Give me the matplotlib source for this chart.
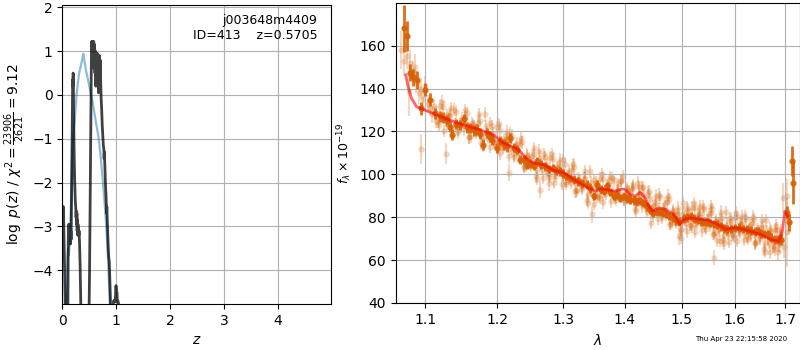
import matplotlib
matplotlib.use('Agg')
import matplotlib.pyplot as plt
from matplotlib.ticker import FixedLocator, FixedFormatter, NullLocator

# log p(z) curve (dark) and prior-like curve (blue)
pz_z = [0.000, 0.005, 0.010, 0.015, 0.020, 0.030, 0.040, 0.050, 0.060, 0.070,
        0.080, 0.090, 0.100, 0.108, 0.112, 0.117, 0.122, 0.127, 0.132, 0.137,
        0.142, 0.147, 0.152, 0.157, 0.162, 0.167, 0.175, 0.182, 0.188, 0.192,
        0.196, 0.200, 0.204, 0.210, 0.220, 0.230, 0.240, 0.250, 0.255, 0.260,
        0.265, 0.270, 0.275, 0.280, 0.285, 0.290, 0.295, 0.300, 0.305, 0.310,
        0.315, 0.320, 0.330, 0.340, 0.350, 0.360, 0.400, 0.450, 0.480, 0.495,
        0.505, 0.515, 0.525, 0.535, 0.540, 0.545, 0.552, 0.560, 0.568, 0.575,
        0.582, 0.590, 0.598, 0.606, 0.614, 0.622, 0.630, 0.638, 0.646, 0.654,
        0.662, 0.670, 0.678, 0.686, 0.694, 0.700, 0.710, 0.720, 0.730,
        0.740, 0.750, 0.760, 0.770, 0.775, 0.780, 0.785, 0.790, 0.800, 0.810,
        0.815, 0.820, 0.825, 0.830, 0.840, 0.850, 0.860, 0.870, 0.880, 0.890,
        0.900, 0.910, 0.920, 0.940, 0.950, 0.960, 0.970, 0.980, 0.990, 0.995,
        1.000, 1.005, 1.010, 1.020, 1.030, 1.040, 1.050, 1.070, 1.200, 2.000,
        5.000]
pz_lp = [-2.7, -2.55, -2.8, -2.6, -2.55, -3.2, -3.9, -4.5, -5.2, -5.8,
         -6.3, -6.0, -5.4, -4.0, -3.0, -3.3, -2.95, -3.35, -3.1, -3.3,
         -2.95, -3.2, -3.4, -3.1, -3.3, -2.9, -1.8, -0.7, 0.1, 0.35,
         0.2, 0.5, 0.45, -0.5, -1.4, -2.0, -2.4, -2.6, -2.8, -2.65,
         -2.95, -2.7, -3.1, -2.85, -3.2, -2.95, -3.15, -3.05, -3.2, -3.1,
         -3.25, -3.4, -3.9, -4.6, -5.3, -6.0, -7.0, -6.8, -6.0, -5.0,
         -4.0, -2.5, -1.0, 0.4, 1.0, 1.22, 0.95, 1.22, 1.22, 0.9,
         1.22, 0.6, 1.15, 0.5, 1.0, 0.2, 0.7, 0.3, 0.95, 0.4,
         0.75, 0.05, 0.6, 0.9, 0.45, 0.8, 0.3, -0.1, -0.35,
         -0.7, -0.95, -1.15, -1.25, -1.45, -1.3, -1.5, -1.75, -2.05, -2.3,
         -2.55, -2.7, -2.55, -2.75, -3.1, -3.45, -3.7, -3.8, -4.2, -4.6,
         -5.2, -5.8, -5.5, -4.9, -4.7, -4.72, -4.68, -4.72, -4.5, -4.35,
         -4.45, -4.7, -4.5, -4.72, -4.7, -4.74, -5.2, -6.0, -7.0, -8.0,
         -9.0]

blue_z = [0.060, 0.070, 0.080, 0.090, 0.100, 0.110, 0.120, 0.130, 0.140, 0.150,
          0.160, 0.170, 0.190, 0.210, 0.235, 0.260, 0.290, 0.320, 0.350, 0.375,
          0.390, 0.410, 0.440, 0.470, 0.500, 0.540, 0.580, 0.620, 0.670, 0.710,
          0.750, 0.790, 0.820, 0.850, 0.880, 0.900]
blue_lp = [-6.0, -5.0, -4.3, -3.9, -3.6, -3.5, -3.65, -3.5, -3.35, -2.95,
           -2.45, -1.95, -1.2, -0.85, -0.5, -0.05, 0.3, 0.55, 0.7, 0.85,
           0.94, 0.78, 0.55, 0.38, 0.2, -0.04, -0.3, -0.6, -0.95, -1.4,
           -1.95, -2.55, -3.1, -3.84, -4.8, -5.5]

# spectrum: individual pixels (light), binned (dark), model (red)
light_wave = [1.068, 1.072, 1.075, 1.078, 1.080, 1.083, 1.086, 1.088, 1.091, 1.094,
              1.094, 1.097, 1.100, 1.103, 1.106, 1.109,
              1.112, 1.117, 1.122, 1.127, 1.128, 1.132, 1.137, 1.142, 1.147, 1.152,
              1.157, 1.162, 1.167, 1.172, 1.177, 1.182, 1.187, 1.192, 1.197, 1.202,
              1.207, 1.212, 1.217, 1.2175, 1.222, 1.227, 1.232, 1.237, 1.242, 1.247,
              1.252, 1.257, 1.262, 1.263, 1.267, 1.272, 1.277, 1.278, 1.282, 1.287,
              1.292, 1.297, 1.302, 1.307, 1.312, 1.317, 1.322, 1.327, 1.332, 1.337,
              1.342, 1.345, 1.347, 1.352, 1.357, 1.362, 1.367, 1.372, 1.377, 1.382,
              1.387, 1.392, 1.397, 1.402, 1.407, 1.412, 1.417, 1.422, 1.427, 1.432,
              1.437, 1.442, 1.447, 1.452, 1.457, 1.462, 1.467, 1.472, 1.477, 1.482,
              1.487, 1.492, 1.496, 1.498, 1.502, 1.507, 1.512, 1.517, 1.522, 1.527,
              1.532, 1.537, 1.542, 1.547, 1.552, 1.557, 1.560, 1.562, 1.566, 1.567,
              1.571, 1.572, 1.577, 1.582, 1.587, 1.592, 1.597, 1.602, 1.607, 1.612,
              1.617, 1.622, 1.627, 1.632, 1.637, 1.642, 1.647, 1.652, 1.657, 1.662,
              1.667, 1.672, 1.677, 1.682, 1.687, 1.692, 1.695, 1.697, 1.7045, 1.705,
              1.708,
              1.1145, 1.1195, 1.1245, 1.1295, 1.1345, 1.1395, 1.1445, 1.1495, 1.1545, 1.1595,
              1.1645, 1.1695, 1.1745, 1.1795, 1.1845, 1.1895, 1.1945, 1.1995, 1.2045, 1.2095,
              1.2145, 1.2195, 1.2245, 1.2295, 1.2345, 1.2395, 1.2445, 1.2495, 1.2545, 1.2595,
              1.2645, 1.2695, 1.2745, 1.2795, 1.2845, 1.2895, 1.2945, 1.2995, 1.3045, 1.3095,
              1.3145, 1.3195, 1.3245, 1.3295, 1.3345, 1.3395, 1.3445, 1.3495, 1.3545, 1.3595,
              1.3645, 1.3695, 1.3745, 1.3795, 1.3845, 1.3895, 1.3945, 1.3995, 1.4045, 1.4095,
              1.4145, 1.4195, 1.4245, 1.4295, 1.4345, 1.4395, 1.4445, 1.4495, 1.4545, 1.4595,
              1.4645, 1.4695, 1.4745, 1.4795, 1.4845, 1.4895, 1.4945, 1.4995, 1.5045, 1.5095,
              1.5145, 1.5195, 1.5245, 1.5295, 1.5345, 1.5395, 1.5445, 1.5495, 1.5545, 1.5595,
              1.5645, 1.5695, 1.5745, 1.5795, 1.5845, 1.5895, 1.5945, 1.5995, 1.6045, 1.6095,
              1.6145, 1.6195, 1.6245, 1.6295, 1.6345, 1.6395, 1.6445, 1.6495, 1.6545, 1.6595,
              1.6645, 1.6695, 1.6745, 1.6795, 1.6845, 1.6895]
light_flux = [158, 153, 155, 139, 152, 148, 150, 143, 138, 140,
              112, 135, 141, 133, 131, 128,
              132, 124.5, 133.5, 125, 109.6, 127, 119.5, 129, 123.5, 121,
              128.5, 118, 122.5, 124, 114.5, 128, 117, 122.5, 114.5, 123.5,
              114, 116, 108.5, 100.7, 117.5, 112, 109, 115, 104, 107.5,
              108.5, 99, 111, 92.9, 102.5, 108, 100, 96, 109.5, 100.5,
              103, 95.5, 105, 99, 96, 103.5, 92.5, 96.5, 98, 88,
              101.5, 81.3, 90.5, 96, 90, 100, 92, 94.8, 87.5, 97.2,
              92, 90.8, 99, 88.5, 92, 93.3, 84, 96, 89.5, 94,
              85, 92, 82, 85.5, 79.3, 89.3, 83.7, 81.3, 88.5, 77.7,
              81.5, 81.5, 71.2, 74, 86.5, 77.2, 83.5, 76.6, 86.4, 78.2,
              81, 73.9, 83.7, 78.6, 76.2, 83.8, 61.1, 73, 69.3, 77.3,
              69, 78.8, 69.2, 82.4, 72.5, 78.8, 72, 82, 73.8, 76.6,
              69.4, 79.2, 73.8, 71.4, 79, 68.6, 73.2, 74.8, 65.1, 78.5,
              68, 73.5, 66.2, 76, 67.8, 73, 89, 66, 73, 89.8,
              78,
              124.7, 132, 120.2, 127.5, 130.8, 123.2, 119.7, 126.2, 129.8, 117.3,
              122.8, 119.3, 125, 113.3, 119.5, 123.8, 115, 122, 109.8, 116.5,
              119.8, 112, 108.3, 114.6, 117, 103.5, 108.2, 104, 109.3, 98,
              104.8, 109.5, 100.5, 107.8, 96, 103.2, 106.8, 99.5, 95.5, 101.5,
              104.8, 92, 97, 93.3, 98.5, 86.8, 93, 97.2, 89.5, 98,
              87, 94.9, 98.7, 91.3, 88.1, 95.5, 97, 88, 92.5, 88.6,
              94, 83, 91, 94, 86, 91.5, 77.5, 85, 90, 83.4,
              80, 86.6, 90, 77, 82.2, 77.5, 81.5, 70.5, 79, 84.4,
              76.6, 84.5, 73.3, 81.1, 85, 77.8, 74.7, 81.5, 85, 72.4,
              77.6, 74, 79.5, 67.8, 74.3, 79.6, 71.9, 80, 68.9, 76.7,
              80.5, 73.3, 70, 76.6, 80.2, 67.8, 73.4, 70, 75.5, 63.8,
              70.2, 74.7, 66.4, 74.1, 64, 71.5]
light_err = [9, 7, 6, 12, 6, 5, 6, 5, 5, 5,
             7, 4, 5, 4, 4, 4,
             3, 3, 3.5, 3, 5, 3, 3, 3.5, 3, 3,
             3, 3.5, 3, 3, 3, 3.5, 3, 3, 3, 3,
             3, 3, 3, 4, 3.5, 3, 3, 3, 3, 3,
             3, 3, 3, 4, 3, 3, 3, 4, 3, 3,
             3, 3, 3, 3, 3, 3.5, 3, 3, 3, 3,
             3, 4, 3, 3, 3, 3, 3, 3, 3, 3,
             3, 3, 3, 3, 3, 3, 3, 3, 3, 3,
             3, 3, 3, 3, 3, 3, 3, 3, 3, 3,
             3, 3, 4, 3, 3, 3, 3, 3, 3, 3,
             3, 3, 3, 3, 3, 3, 3.5, 3, 3, 3,
             3, 3, 3, 3, 3, 3, 3, 3, 3, 3,
             3, 3, 3, 3, 3, 3, 3, 3, 3, 3,
             3, 3, 3, 3, 4, 4, 7, 5, 16, 8,
             6,
             3, 3, 3, 3, 3, 3, 3, 3, 3, 3,
             3, 3, 3, 3, 3, 3, 3, 3, 3, 3,
             3, 3, 3, 3, 3, 3, 3, 3, 3, 3,
             3, 3, 3, 3, 3, 3, 3, 3, 3, 3,
             3, 3, 3, 3, 3, 3, 3, 3, 3, 3,
             3, 3, 3, 3, 3, 3, 3, 3, 3, 3,
             3, 3, 3, 3, 3, 3, 3, 3, 3, 3,
             3, 3, 3, 3, 3, 3, 3, 3, 3, 3,
             3, 3, 3, 3, 3, 3, 3, 3, 3, 3,
             3, 3, 3, 3, 3, 3, 3, 3, 3, 3,
             3, 3, 3, 3, 3, 3, 3, 3, 3, 3,
             3, 3, 3, 3, 4, 4]

# more single pixels (second exposure)
extra_wave = [1.1138, 1.1188, 1.1238, 1.1288, 1.1338, 1.1388, 1.1438, 1.1488, 1.1538, 1.1588,
              1.1638, 1.1688, 1.1738, 1.1788, 1.1838, 1.1888, 1.1938, 1.1988, 1.2038, 1.2088,
              1.2138, 1.2188, 1.2238, 1.2288, 1.2338, 1.2388, 1.2438, 1.2488, 1.2538, 1.2588,
              1.2638, 1.2688, 1.2738, 1.2788, 1.2838, 1.2888, 1.2938, 1.2988, 1.3038, 1.3088,
              1.3138, 1.3188, 1.3238, 1.3288, 1.3338, 1.3388, 1.3438, 1.3488, 1.3538, 1.3588,
              1.3638, 1.3688, 1.3738, 1.3788, 1.3838, 1.3888, 1.3938, 1.3988, 1.4038, 1.4088,
              1.4138, 1.4188, 1.4238, 1.4288, 1.4338, 1.4388, 1.4438, 1.4488, 1.4538, 1.4588,
              1.4638, 1.4688, 1.4738, 1.4788, 1.4838, 1.4888, 1.4938, 1.4988, 1.5038, 1.5088,
              1.5138, 1.5188, 1.5238, 1.5288, 1.5338, 1.5388, 1.5438, 1.5488, 1.5538, 1.5588,
              1.5638, 1.5688, 1.5738, 1.5788, 1.5838, 1.5888, 1.5938, 1.5988, 1.6038, 1.6088,
              1.6138, 1.6188, 1.6238, 1.6288, 1.6338, 1.6388, 1.6438, 1.6488, 1.6538, 1.6588,
              1.6638, 1.6688, 1.6738, 1.6788, 1.6838, 1.6888]
extra_flux = [128.7, 123, 131.2, 123.5, 127.8, 130.2, 120.7, 123.2, 126.8, 117.3,
              123.8, 120.3, 128, 117.3, 122.5, 112.8, 119, 113, 120.8, 112.5,
              116.8, 119, 109.3, 111.6, 114, 103.5, 109.2, 105, 112.3, 102,
              107.8, 98.5, 104.5, 98.8, 107, 99.2, 103.8, 106.5, 96.5, 98.5,
              101.8, 92, 98, 94.3, 101.5, 90.8, 96, 86.2, 93.5, 89,
              98, 90.9, 95.7, 98.3, 89.1, 92.5, 97, 88, 93.5, 89.6,
              95, 87, 94, 85, 90, 82.5, 88.5, 81, 87, 90.4,
              81, 83.6, 87, 77, 83.2, 78.5, 84.5, 74.5, 82, 73.4,
              80.6, 75.5, 84.3, 77.1, 82, 84.8, 75.7, 78.5, 82, 72.4,
              78.6, 75, 82.5, 71.8, 77.3, 68.6, 75.9, 71, 79.9, 72.7,
              77.5, 80.3, 71, 73.6, 77.2, 67.8, 74.4, 71, 78.5, 67.8,
              73.2, 63.7, 70.4, 65.1, 73.9, 67.5]
extra_err = [3, 3, 3, 3, 3, 3, 3, 3, 3, 3,
             3, 3, 3, 3, 3, 3, 3, 3, 3, 3,
             3, 3, 3, 3, 3, 3, 3, 3, 3, 3,
             3, 3, 3, 3, 3, 3, 3, 3, 3, 3,
             3, 3, 3, 3, 3, 3, 3, 3, 3, 3,
             3, 3, 3, 3, 3, 3, 3, 3, 3, 3,
             3, 3, 3, 3, 3, 3, 3, 3, 3, 3,
             3, 3, 3, 3, 3, 3, 3, 3, 3, 3,
             3, 3, 3, 3, 3, 3, 3, 3, 3, 3,
             3, 3, 3, 3, 3, 3, 3, 3, 3, 3,
             3, 3, 3, 3, 3, 3, 3, 3, 3, 3,
             3, 3, 3, 3, 4, 4]

dark_wave = [1.0714, 1.0762, 1.0792, 1.0830, 1.0889, 1.0946, 1.0987, 1.1060, 1.1130, 1.1192,
             1.1240, 1.1284, 1.1329, 1.1352, 1.1420, 1.1470, 1.1526, 1.1570, 1.1610, 1.1660,
             1.1704, 1.1750, 1.1799, 1.1847, 1.1890, 1.1920, 1.1993, 1.2040, 1.2090, 1.2141,
             1.2190, 1.2240, 1.2290, 1.2340, 1.2390, 1.2436, 1.2490, 1.2540, 1.2592, 1.2650,
             1.2718, 1.2780, 1.2842, 1.2890, 1.2943, 1.3000, 1.3040, 1.3096, 1.3160, 1.3225,
             1.3290, 1.3373, 1.3430, 1.3483, 1.3536, 1.3600, 1.3650, 1.3701, 1.3760, 1.3812,
             1.3870, 1.3925, 1.3980, 1.4040, 1.4095, 1.4150, 1.4208, 1.4270, 1.4322, 1.4380,
             1.4430, 1.4493, 1.4560, 1.4610, 1.4668, 1.4720, 1.4780, 1.4840, 1.4900, 1.4960,
             1.5040, 1.5100, 1.5165, 1.5230, 1.5290, 1.5346, 1.5410, 1.5470, 1.5530, 1.5600,
             1.5660, 1.5727, 1.5790, 1.5855, 1.5920, 1.6000, 1.6081, 1.6160, 1.6244, 1.6320,
             1.6400, 1.6446, 1.6520, 1.6580, 1.6650, 1.6720, 1.6789, 1.6850, 1.6890, 1.6926,
             1.7033, 1.7080, 1.7137, 1.7173]
dark_flux = [168.1, 164.5, 147.4, 145.3, 144.0, 130.9, 139.4, 134.7, 128.5, 127.0,
             126.5, 125.4, 122.3, 118.5, 123.5, 123.0, 125.8, 122.0, 121.6, 120.5,
             120.8, 119.0, 113.8, 119.3, 117.5, 116.1, 112.3, 115.5, 114.0, 113.0,
             116.9, 112.5, 111.5, 106.8, 107.0, 104.5, 104.8, 104.0, 106.0, 104.5,
             103.7, 102.5, 103.0, 101.5, 101.4, 100.3, 99.2, 98.3, 97.5, 96.7,
             95.8, 95.2, 93.5, 89.8, 95.2, 93.0, 92.2, 94.4, 91.8, 89.8,
             90.5, 89.0, 89.8, 88.8, 88.2, 87.8, 87.4, 87.5, 86.6, 85.0,
             83.5, 82.0, 82.5, 82.5, 82.0, 81.5, 80.5, 79.8, 78.6, 78.1,
             79.5, 80.0, 80.5, 79.3, 78.8, 78.1, 77.8, 77.8, 77.4, 76.8,
             76.5, 75.8, 74.8, 74.3, 74.6, 74.9, 75.1, 74.6, 74.3, 73.8,
             73.3, 73.5, 72.5, 72.1, 72.0, 70.5, 69.6, 69.5, 69.9, 69.6,
             82.0, 77.7, 106.4, 96.0]
dark_err = [11, 7, 4, 4, 4, 3, 3, 3, 2.5, 2.5,
            2.5, 2.5, 2.5, 2.5, 2.5, 2.5, 2.5, 2.5, 2.5, 2.5,
            2.5, 2.5, 2.5, 2.5, 2.5, 2.5, 2.5, 2.5, 2.5, 2.5,
            2.5, 2, 2, 2, 2, 2, 2, 2, 2, 2,
            2, 2, 2, 2, 2, 2, 2, 2, 2, 2,
            2, 2, 2, 2, 2, 2, 2, 2, 2, 2,
            2, 2, 2, 2, 2, 2, 2, 2, 2, 2,
            2, 2, 2, 2, 2, 2, 2, 2, 2, 2,
            2, 2, 2, 2, 2, 2, 2, 2, 2, 2,
            2, 2, 2, 2, 2, 2, 2, 2, 2, 2,
            2, 2, 2, 2, 2, 2, 2, 2, 2, 2.5,
            3, 4, 7, 10]

model_wave = [1.0740, 1.0770, 1.0814, 1.0880, 1.1000, 1.1146, 1.1284, 1.1515, 1.1749, 1.1940,
              1.2087, 1.2210, 1.2310, 1.2436, 1.2537, 1.2690, 1.2842, 1.3000, 1.3213, 1.3373,
              1.3509, 1.3591, 1.3701, 1.3840, 1.3953, 1.4005, 1.4095, 1.4181, 1.4265, 1.4355,
              1.4412, 1.4473, 1.4590, 1.4711, 1.4860, 1.4969, 1.5042, 1.5165, 1.5475, 1.5600,
              1.5727, 1.5823, 1.5985, 1.6178, 1.6507, 1.6709, 1.6879, 1.6949, 1.6996, 1.7052]
model_flux = [146.4, 141.0, 135.5, 131.6, 129.8, 127.8, 125.8, 123.1, 120.8, 118.5,
              114.6, 113.0, 111.5, 107.2, 105.3, 104.5, 101.9, 100.7, 96.7, 94.1,
              92.1, 93.2, 92.9, 92.1, 93.2, 92.9, 90.6, 89.8, 91.6, 89.0,
              85.1, 82.8, 84.4, 83.6, 81.3, 76.6, 79.0, 79.7, 78.6, 77.4,
              75.8, 74.3, 75.1, 74.3, 72.0, 69.6, 68.8, 74.3, 82.8, 80.5]

wave_ticks = [1.1, 1.2, 1.3, 1.4, 1.5, 1.6, 1.7]
flux_ticks = [40, 60, 80, 100, 120, 140, 160]

orange = '#d95f02'

fig = plt.figure(figsize=(8, 3.5), dpi=100)
ax1 = fig.add_axes([0.0779, 0.1314, 0.3359, 0.8552])
ax2 = fig.add_axes([0.4946, 0.1331, 0.5048, 0.8571])

# p(z) panel
ax1.plot(blue_z, blue_lp, color='#1f77b4', alpha=0.5, lw=1.6)
ax1.plot(pz_z, pz_lp, color='k', alpha=0.75, lw=2)
ax1.set_xlim(0, 4.98)
ax1.set_ylim(-4.77, 2.06)
ax1.set_xticks([0, 1, 2, 3, 4])
ax1.set_yticks([-4, -3, -2, -1, 0, 1, 2])
ax1.grid()
ax1.set_xlabel(r'$z$', fontsize=10)
ax1.set_ylabel(r'$\log\ p(z)$ / $\chi^2=\frac{23906}{2621}=9.12$', fontsize=10)
ax1.text(0.95, 0.97, 'j003648m4409\nID=413    z=0.5705', ha='right', va='top',
         fontsize=9, transform=ax1.transAxes)
ax1.tick_params(labelsize=10)

# spectrum panel
ax2.errorbar(light_wave, light_flux, yerr=light_err, fmt='o', color=orange,
             alpha=0.25, ms=4.4, mec='none', elinewidth=1.5, zorder=1)
ax2.errorbar(extra_wave, extra_flux, yerr=extra_err, fmt='o', color=orange,
             alpha=0.25, ms=4.4, mec='none', elinewidth=1.5, zorder=1)
ax2.errorbar(dark_wave, dark_flux, yerr=dark_err, fmt='o', color=orange,
             alpha=0.9, ms=4.5, mec='none', elinewidth=2, zorder=2)
ax2.plot(model_wave, model_flux, color='r', alpha=0.6, lw=2, zorder=3)
ax2.set_xscale('log')
ax2.set_xlim(1.061, 1.730)
ax2.set_ylim(39.8, 179.7)
ax2.xaxis.set_major_locator(FixedLocator(wave_ticks))
ax2.xaxis.set_major_formatter(FixedFormatter([str(w) for w in wave_ticks]))
ax2.xaxis.set_minor_locator(NullLocator())
ax2.set_yticks(flux_ticks)
ax2.grid()
ax2.set_xlabel(r'$\lambda$', fontsize=10)
ax2.set_ylabel(r'$f_\lambda \times 10^{-19}$', fontsize=9)
ax2.tick_params(labelsize=10)

fig.text(0.984, 0.031, 'Thu Apr 23 22:15:58 2020', ha='right', va='center', fontsize=5)

fig.savefig('out.png', dpi=100)
